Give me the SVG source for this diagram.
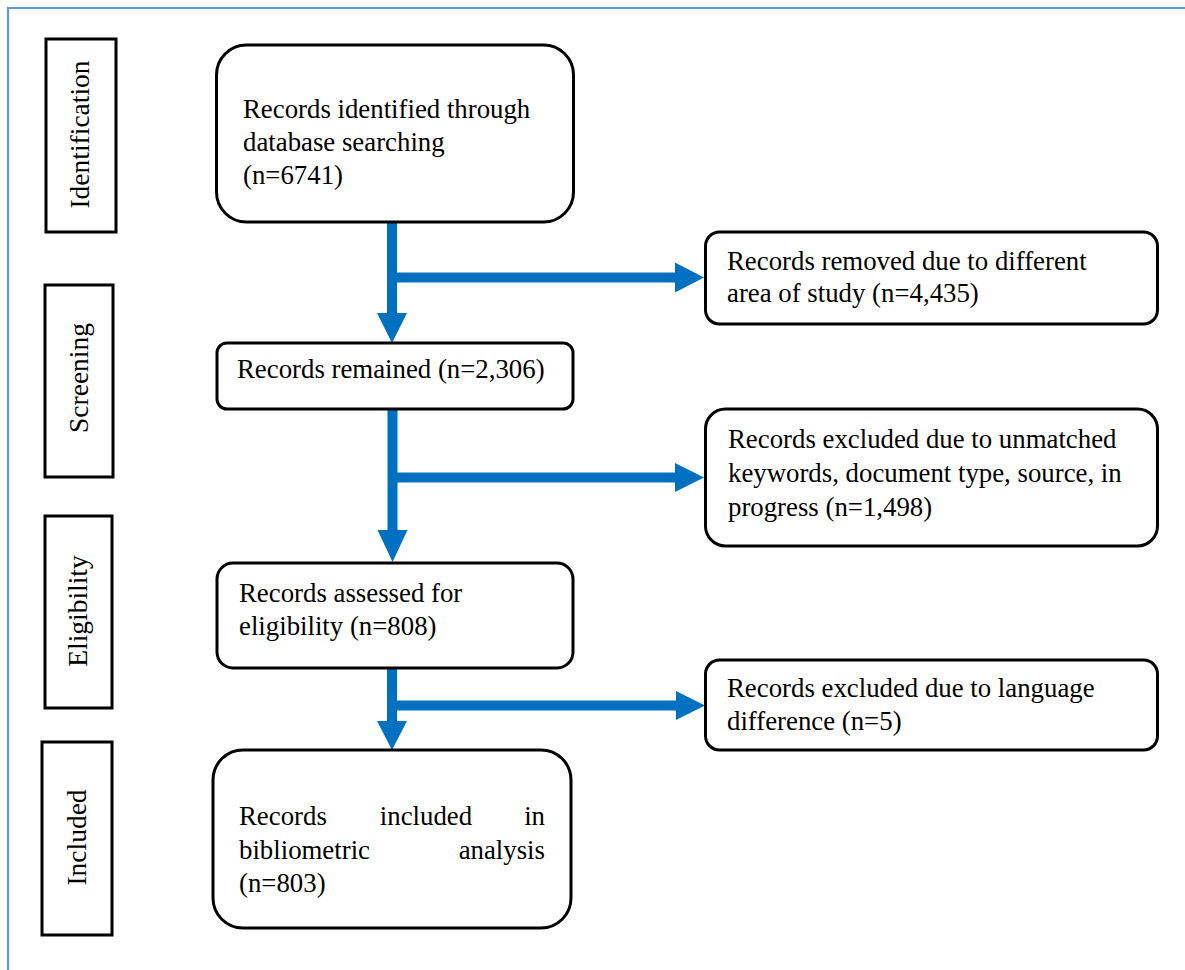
<svg xmlns="http://www.w3.org/2000/svg" width="1185" height="970" viewBox="0 0 1185 970">
<style>
.box{fill:#fff;stroke:#000;stroke-width:3}
.t{font-family:"Liberation Serif","Times New Roman",serif;font-size:26.8px;fill:#000}
.side{font-family:"Liberation Serif","Times New Roman",serif;font-size:27.5px;fill:#000;text-anchor:middle}
.shaft{stroke:#0070C0;stroke-width:10;fill:none}
.head{fill:#0070C0}
</style>
<rect width="1185" height="970" fill="#fff"/>
<g id="frame">
<path d="M8 970 V8 H1185" fill="none" stroke="#5B9BD5" stroke-width="2.2"/>
</g>
<g id="stage-identification">
<rect class="box" x="46" y="39" width="70" height="193"/>
<text class="side" transform="translate(89,134.5) rotate(-90)">Identification</text>
</g>
<g id="stage-screening">
<rect class="box" x="45" y="285" width="68" height="192"/>
<text class="side" transform="translate(88,378) rotate(-90)">Screening</text>
</g>
<g id="stage-eligibility">
<rect class="box" x="45" y="516" width="67" height="192"/>
<text class="side" transform="translate(87,611) rotate(-90)">Eligibility</text>
</g>
<g id="stage-included">
<rect class="box" x="42" y="742" width="70" height="193"/>
<text class="side" transform="translate(86,837.5) rotate(-90)">Included</text>
</g>
<g id="connectors">
<path class="shaft" d="M392 221 V316"/>
<polygon class="head" points="377,313 407,313 392,343"/>
<path class="shaft" d="M392 277.5 H678"/>
<polygon class="head" points="675,262.5 675,292.5 704,277.5"/>
<path class="shaft" d="M392.5 408 V533"/>
<polygon class="head" points="377.5,530 407.5,530 392.5,562"/>
<path class="shaft" d="M392.5 477.5 H678"/>
<polygon class="head" points="675,463 675,492 704,477.5"/>
<path class="shaft" d="M392 667 V724"/>
<polygon class="head" points="377,721 407,721 392,750"/>
<path class="shaft" d="M392 705.5 H679"/>
<polygon class="head" points="676,691 676,720 705,705.5"/>
</g>
<g id="node-identified">
<rect class="box" x="216.5" y="45" width="357" height="177" rx="30"/>
<text class="t" x="243" y="118">Records identified through</text>
<text class="t" x="243" y="151">database searching</text>
<text class="t" x="243" y="184">(n=6741)</text>
</g>
<g id="node-removed">
<rect class="box" x="705.5" y="232" width="452" height="92" rx="14"/>
<text class="t" x="727" y="270">Records removed due to different</text>
<text class="t" x="727" y="302">area of study (n=4,435)</text>
</g>
<g id="node-remained">
<rect class="box" x="217" y="343" width="356" height="66" rx="10"/>
<text class="t" x="237" y="378">Records remained (n=2,306)</text>
</g>
<g id="node-excluded-keywords">
<rect class="box" x="705.5" y="409" width="452" height="137" rx="20"/>
<text class="t" x="728" y="448">Records excluded due to unmatched</text>
<text class="t" x="728" y="482">keywords, document type, source, in</text>
<text class="t" x="728" y="516">progress (n=1,498)</text>
</g>
<g id="node-assessed">
<rect class="box" x="217" y="563" width="356" height="105" rx="16"/>
<text class="t" x="239" y="602">Records assessed for</text>
<text class="t" x="239" y="635">eligibility (n=808)</text>
</g>
<g id="node-excluded-language">
<rect class="box" x="705.5" y="660" width="452" height="90" rx="14"/>
<text class="t" x="727" y="697">Records excluded due to language</text>
<text class="t" x="727" y="730">difference (n=5)</text>
</g>
<g id="node-included">
<rect class="box" x="213" y="750" width="358" height="178" rx="30"/>
<text class="t" x="239" y="825">Records</text>
<text class="t" x="426" y="825" text-anchor="middle">included</text>
<text class="t" x="545" y="825" text-anchor="end">in</text>
<text class="t" x="239" y="859">bibliometric</text>
<text class="t" x="545" y="859" text-anchor="end">analysis</text>
<text class="t" x="239" y="892">(n=803)</text>
</g>
</svg>
